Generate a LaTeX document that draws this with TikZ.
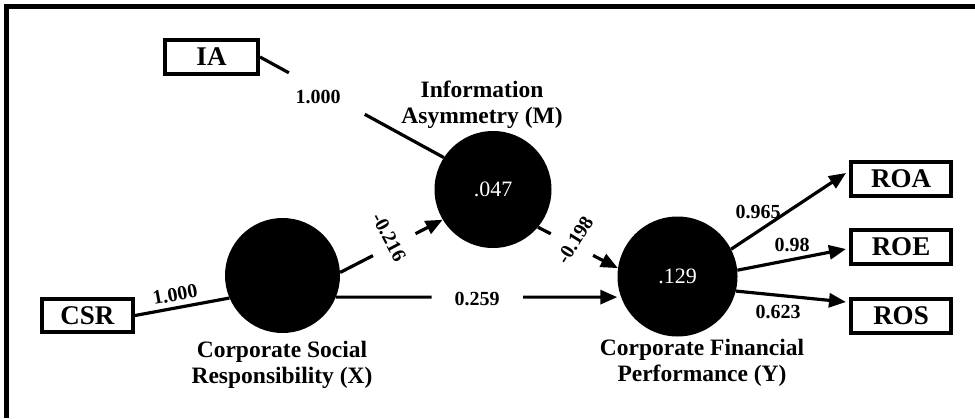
\documentclass[tikz,border=0pt]{standalone}
\usepackage{fontspec}
\setmainfont{Liberation Serif}
\usetikzlibrary{arrows.meta,calc}
\begin{document}
\begin{tikzpicture}[x=1pt,y=-1pt,
  edge/.style={line width=3.2pt},
  arr/.style={line width=3.2pt,-{Triangle[length=17pt,width=14pt]}},
  lv/.style={circle, fill=black, draw=none, inner sep=0pt, text=white, font=\fontsize{22}{26}\selectfont},
  mv/.style={draw, line width=4pt, inner sep=0pt, font=\bfseries\fontsize{27}{30}\selectfont},
  captxt/.style={align=center, font=\bfseries\fontsize{23.5}{26}\selectfont, inner sep=0pt},
  lab/.style={font=\bfseries\fontsize{20}{24}\selectfont, inner sep=0pt},
]
\useasboundingbox (0,0) rectangle (975,418);
% frame
\draw[line width=5pt] (4,6.5) -- (975,6.5);
\draw[line width=5pt] (6.5,4) -- (6.5,418);

% latent variables
\node[lv, minimum size=115pt] (X) at (282.5,275.5) {};
\node[lv, minimum size=117pt] (M) at (493,189.5) {.047};
\node[lv, minimum size=120pt] (Y) at (677.5,276.5) {.129};

% captions
\node[captxt] (Xc) at (282,365) {Corporate Social\\Responsibility (X)};
\node[captxt] (Mc) at (482,105) {Information\\Asymmetry (M)};
\node[captxt] (Yc) at (702,363) {Corporate Financial\\Performance (Y)};

% indicators
\node[mv, minimum width=93pt, minimum height=34pt] (IA) at (211.5,57) {IA};
\node[mv, minimum width=91pt, minimum height=33pt] (CSR) at (87.5,315.5) {CSR};
\node[mv, minimum width=100pt, minimum height=34pt] (ROA) at (901,179) {ROA};
\node[mv, minimum width=100pt, minimum height=34pt] (ROE) at (901,247) {ROE};
\node[mv, minimum width=100pt, minimum height=34pt] (ROS) at (901,316) {ROS};

% IA -> M (with gap)
\draw[edge] (IA.east) -- ($(IA.east)!0.157!(M.147)$);
\draw[edge] ($(IA.east)!0.57!(M.147)$) -- (M.147);
\node[lab] (l1) at (318,97) {1.000};

% CSR -> X
\draw[edge] (CSR.east) -- node[lab, pos=0.45, sloped, above=5pt] (l2) {1.000} (X.203);

% X -> M
\draw[edge] (X.3.5) -- ($(X.3.5)!0.32!(M.211)$);
\draw[arr] ($(X.3.5)!0.735!(M.211)$) -- (M.211);
\node[lab, rotate=-62] (l3) at (389,237) {-0.216};

% M -> Y
\draw[edge] (M.-40.5) -- ($(M.-40.5)!0.16!(Y.172)$);
\draw[arr] ($(M.-40.5)!0.69!(Y.172)$) -- (Y.172);
\node[lab, rotate=58] (l4) at (575,240) {-0.198};

% X -> Y
\coordinate (xs) at (X.-22);
\coordinate (ye) at (xs -| Y.west);
\draw[edge] (xs) -- ($(xs)!0.34!(ye)$);
\draw[arr] ($(xs)!0.665!(ye)$) -- (ye);
\node[lab] (l5) at (477,299) {0.259};

% Y -> indicators
\draw[arr] (Y.27) -- ($(ROA.west)+(-3,-6)$);
\draw[arr] (Y.6) -- ($(ROE.west)+(-3,2)$);
\draw[arr] (Y.-14.6) -- ($(ROS.west)+(-3,-14)$);
\node[lab] (l6) at (758,212) {0.965};
\node[lab] (l7) at (792,245) {0.98};
\node[lab] (l8) at (778,312) {0.623};
\end{tikzpicture}
\end{document}
